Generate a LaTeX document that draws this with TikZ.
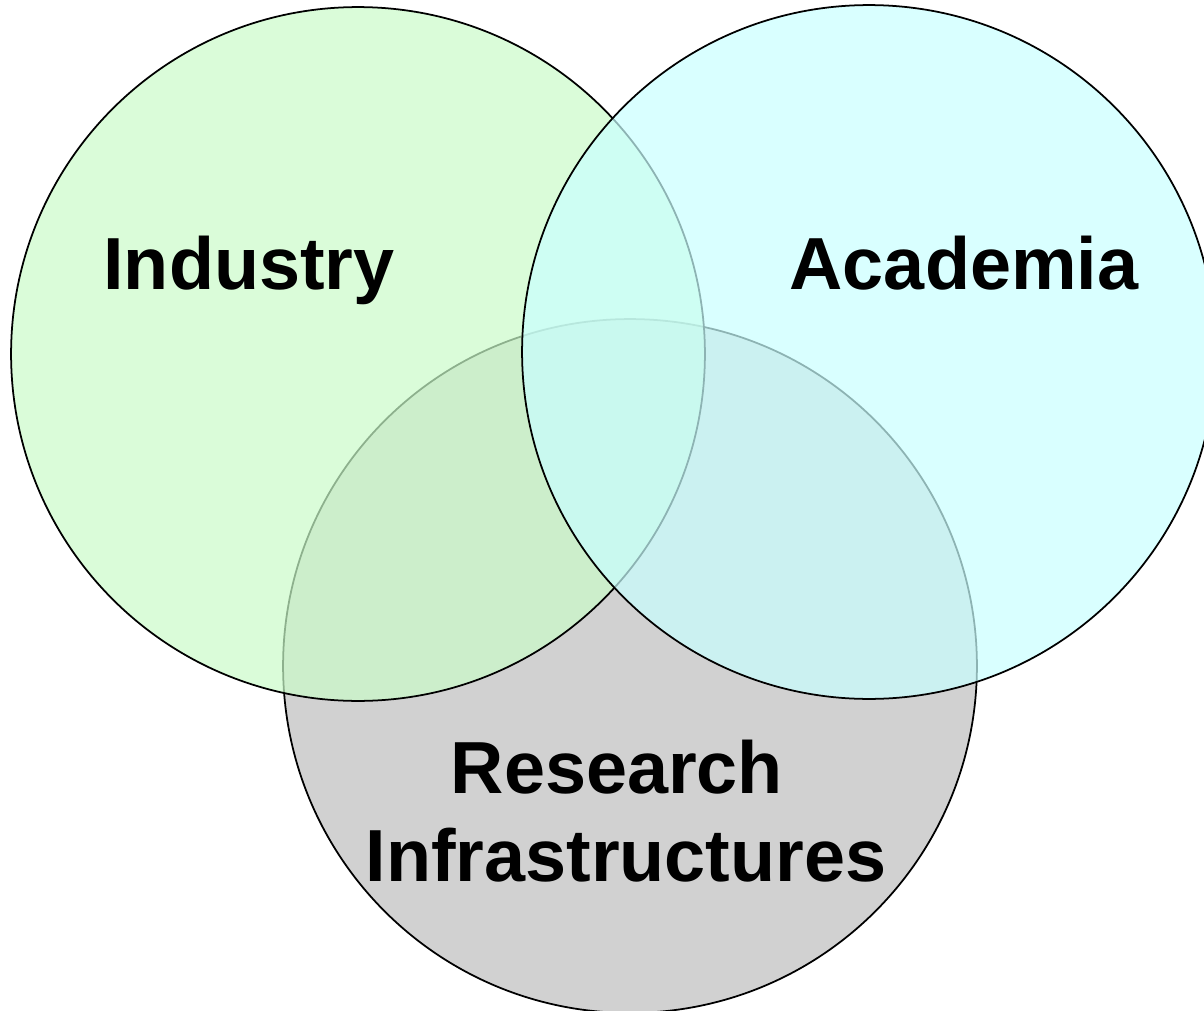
\documentclass[tikz,border=0pt]{standalone}
\usepackage{fontspec}
\setmainfont{Liberation Sans}
\usepackage{tikz}
\usetikzlibrary{positioning}

\definecolor{indgreen}{RGB}{202,251,201}
\definecolor{acacyan}{RGB}{201,255,255}
\definecolor{resgrey}{RGB}{209,209,209}

\begin{document}
\begin{tikzpicture}[x=0.02cm,y=-0.02cm,line width=1pt]
  \tikzstyle{every set}=[circle,draw=black,inner sep=0pt,minimum size=13.88cm]
  \tikzstyle{set label}=[anchor=base,inner sep=0pt,font=\fontsize{42}{50}\selectfont\bfseries]

  \clip (0,0) rectangle (1204,1011);

  % the three sets, research at the bottom
  \node[every set,fill=resgrey]                  (res) at (630,666) {};
  \node[every set,fill=indgreen,fill opacity=0.7] (ind) at (358,354) {};
  \node[every set,fill=acacyan,fill opacity=0.7]  (aca) at (869,352) {};

  % labels
  \node[set label] (indlabel)  at (249,289) {Industry};
  \node[set label] (acalabel)  at (964,289) {Academia};
  \node[set label] (reslabel)  at (617,793) {Research};
  \node[set label] (infralabel) at (626,881) {Infrastructures};
\end{tikzpicture}
\end{document}
